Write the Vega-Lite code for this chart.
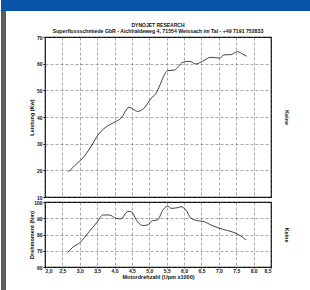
{
  "$schema": "https://vega.github.io/schema/vega-lite/v6.json",
  "padding": 0,
  "background": "#ffffff",
  "spacing": 0,
  "config": {
    "view": {"stroke": null},
    "font": "Liberation Sans",
    "axis": {"labelFontSize": 5, "labelFontWeight": "bold", "labelColor": "#111", "titleFontSize": 5.5, "titleFontWeight": "bold", "titleColor": "#111", "gridColor": "#555", "gridDash": [3, 2], "gridWidth": 0.5, "gridOpacity": 1, "tickColor": "#111", "tickSize": 2, "domain": false},
    "title": {"font": "Liberation Sans"}
  },
  "datasets": {
    "power": [
      {"rpm": 2.67, "kw": 19.3}, {"rpm": 2.84, "kw": 21.6}, {"rpm": 3.13, "kw": 25.3}, {"rpm": 3.35, "kw": 29.5},
      {"rpm": 3.51, "kw": 33.0}, {"rpm": 3.75, "kw": 36.2}, {"rpm": 3.99, "kw": 38.0}, {"rpm": 4.18, "kw": 39.5},
      {"rpm": 4.42, "kw": 43.6}, {"rpm": 4.55, "kw": 42.8}, {"rpm": 4.66, "kw": 42.1}, {"rpm": 4.85, "kw": 43.3},
      {"rpm": 5.05, "kw": 47.0}, {"rpm": 5.19, "kw": 48.8}, {"rpm": 5.28, "kw": 51.2}, {"rpm": 5.38, "kw": 54.3},
      {"rpm": 5.53, "kw": 57.4}, {"rpm": 5.72, "kw": 57.6}, {"rpm": 5.96, "kw": 60.5}, {"rpm": 6.15, "kw": 60.9},
      {"rpm": 6.34, "kw": 59.9}, {"rpm": 6.53, "kw": 60.9}, {"rpm": 6.77, "kw": 62.4}, {"rpm": 7.01, "kw": 62.1},
      {"rpm": 7.15, "kw": 63.3}, {"rpm": 7.34, "kw": 63.4}, {"rpm": 7.54, "kw": 64.5}, {"rpm": 7.68, "kw": 63.6},
      {"rpm": 7.8, "kw": 62.8}
    ],
    "torque": [
      {"rpm": 2.66, "nm": 68.9}, {"rpm": 2.8, "nm": 72.2}, {"rpm": 2.99, "nm": 74.7}, {"rpm": 3.27, "nm": 81.8},
      {"rpm": 3.51, "nm": 87.9}, {"rpm": 3.66, "nm": 92.0}, {"rpm": 3.85, "nm": 92.0}, {"rpm": 4.04, "nm": 90.0},
      {"rpm": 4.18, "nm": 89.6}, {"rpm": 4.38, "nm": 94.1}, {"rpm": 4.47, "nm": 94.1}, {"rpm": 4.66, "nm": 87.9},
      {"rpm": 4.81, "nm": 85.5}, {"rpm": 4.95, "nm": 85.9}, {"rpm": 5.09, "nm": 88.5}, {"rpm": 5.24, "nm": 89.0},
      {"rpm": 5.38, "nm": 94.7}, {"rpm": 5.53, "nm": 97.5}, {"rpm": 5.62, "nm": 96.1}, {"rpm": 5.81, "nm": 96.5},
      {"rpm": 5.91, "nm": 97.1}, {"rpm": 6.05, "nm": 95.1}, {"rpm": 6.2, "nm": 90.0}, {"rpm": 6.39, "nm": 88.5},
      {"rpm": 6.58, "nm": 87.9}, {"rpm": 6.77, "nm": 85.9}, {"rpm": 7.01, "nm": 83.9}, {"rpm": 7.25, "nm": 82.4},
      {"rpm": 7.49, "nm": 80.8}, {"rpm": 7.78, "nm": 76.7}
    ],
    "blank": [{"k": 1}]
  },
  "vconcat": [
    {
      "width": 310, "height": 11,
      "data": {"name": "blank"},
      "mark": {"type": "point", "opacity": 0},
      "encoding": {},
      "view": {"fill": "#0a55aa", "stroke": null}
    },
    {
      "spacing": 21,
      "hconcat": [
        {
          "width": 5, "height": 279,
          "data": {"name": "blank"},
          "mark": {"type": "point", "opacity": 0},
          "encoding": {},
          "view": {"fill": "#5c605c", "stroke": null}
        },
        {
          "spacing": -2,
          "vconcat": [
            {
              "width": 1, "height": 13,
              "data": {"name": "blank"},
              "mark": {"type": "point", "opacity": 0},
              "encoding": {}
            },
            {
              "width": 226, "height": 160,
              "title": {"text": "DYNOJET RESEARCH", "subtitle": "Superflussschmiede GbR - Aichhaldeweg 4, 71554 Weissach im Tal - +49 7191 752833", "fontSize": 5, "fontWeight": "bold", "subtitleFontSize": 5.2, "subtitleFontWeight": "bold", "subtitleColor": "#111", "color": "#111", "subtitlePadding": 0.5, "offset": 1, "anchor": "middle", "frame": "group"},
              "data": {"name": "power"},
              "view": {"stroke": "#000", "strokeWidth": 1.2},
              "resolve": {"axis": {"y": "independent"}},
              "layer": [
                {
                  "mark": {"type": "line", "color": "#111", "strokeWidth": 0.8, "interpolate": "monotone"},
                  "encoding": {
                    "x": {"field": "rpm", "type": "quantitative", "scale": {"domain": [2, 8.5], "nice": false}, "axis": {"values": [2, 2.5, 3, 3.5, 4, 4.5, 5, 5.5, 6, 6.5, 7, 7.5, 8, 8.5], "labels": false, "ticks": false, "title": null, "grid": true, "minExtent": 0, "maxExtent": 0, "labelPadding": 0}},
                    "y": {"field": "kw", "type": "quantitative", "scale": {"domain": [10, 70], "nice": false, "zero": false}, "axis": {"values": [10, 20, 30, 40, 50, 60, 70], "title": "Leistung (Kw)", "labelPadding": 1, "minExtent": 10, "maxExtent": 10, "titlePadding": 1, "grid": true}}
                  }
                },
                {
                  "mark": {"type": "line", "opacity": 0},
                  "encoding": {
                    "x": {"field": "rpm", "type": "quantitative", "axis": {"values": [2, 2.5, 3, 3.5, 4, 4.5, 5, 5.5, 6, 6.5, 7, 7.5, 8, 8.5], "labels": false, "ticks": false, "title": null, "grid": true, "minExtent": 0, "maxExtent": 0, "labelPadding": 0}},
                    "y": {"field": "kw", "type": "quantitative", "axis": {"orient": "right", "labels": false, "ticks": false, "grid": false, "title": "Keine", "titlePadding": 12}}
                  }
                }
              ]
            },
            {
              "width": 226, "height": 65,
              "data": {"name": "torque"},
              "view": {"stroke": "#000", "strokeWidth": 1.2},
              "resolve": {"axis": {"y": "independent"}},
              "layer": [
                {
                  "mark": {"type": "line", "color": "#111", "strokeWidth": 0.8, "interpolate": "monotone"},
                  "encoding": {
                    "x": {"field": "rpm", "type": "quantitative", "scale": {"domain": [2, 8.5], "nice": false}, "axis": {"values": [2, 2.5, 3, 3.5, 4, 4.5, 5, 5.5, 6, 6.5, 7, 7.5, 8, 8.5], "labelExpr": "replace(format(datum.value, '.1f'), '.', ',')", "title": "Motordrehzahl (Upm x1000)", "labelPadding": 0, "tickSize": 1, "titlePadding": 1, "grid": true}},
                    "y": {"field": "nm", "type": "quantitative", "scale": {"domain": [60, 100], "nice": false, "zero": false}, "axis": {"values": [60, 70, 80, 90, 100], "title": "Drehmoment (Nm)", "labelPadding": 1, "minExtent": 10, "maxExtent": 10, "titlePadding": 1, "grid": true}}
                  }
                },
                {
                  "mark": {"type": "line", "opacity": 0},
                  "encoding": {
                    "x": {"field": "rpm", "type": "quantitative", "axis": {"values": [2, 2.5, 3, 3.5, 4, 4.5, 5, 5.5, 6, 6.5, 7, 7.5, 8, 8.5], "labelExpr": "replace(format(datum.value, '.1f'), '.', ',')", "title": "Motordrehzahl (Upm x1000)", "labelPadding": 0, "tickSize": 1, "titlePadding": 1, "grid": true}},
                    "y": {"field": "nm", "type": "quantitative", "axis": {"orient": "right", "labels": false, "ticks": false, "grid": false, "title": "Keine", "titlePadding": 12}}
                  }
                }
              ]
            }
          ]
        }
      ]
    }
  ]
}
